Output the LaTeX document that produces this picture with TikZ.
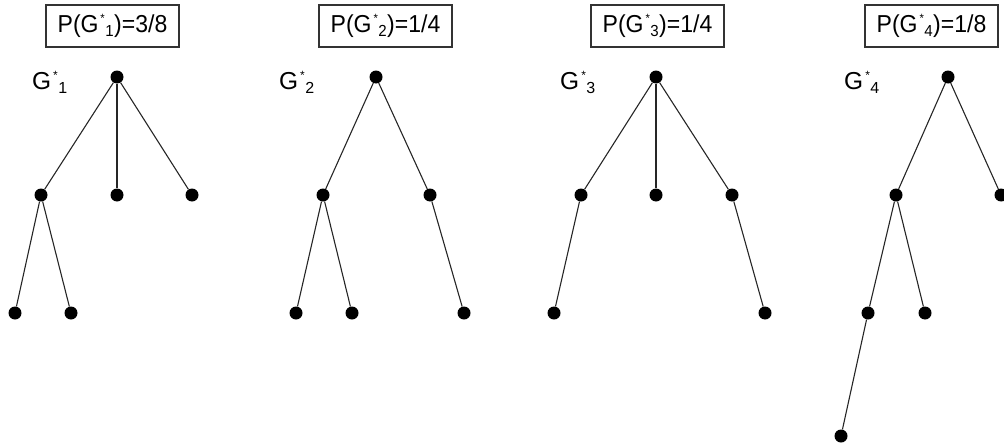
\documentclass[tikz,border=0pt]{standalone}
\usepackage{fontspec}
\setmainfont{Liberation Sans}
% G with a starred superscript and an index subscript set beside it
\newcommand{\gsym}[1]{G\kern2pt\raisebox{10pt}{\fontsize{12}{12}\selectfont *}\kern0.5pt\raisebox{-4pt}{\fontsize{16}{16}\selectfont #1}\kern0.5pt}
\begin{document}
\begin{tikzpicture}[x=1pt,y=-1pt,
  vertex/.style={circle,fill=black,inner sep=0pt,minimum size=13pt},
  edge/.style={draw=black!85,line width=1.1pt},
  probbox/.style={draw=black!80,line width=2.8pt,minimum width=133pt,minimum height=42pt,inner sep=0pt,font=\fontsize{24.5}{24.5}\selectfont},
  glabel/.style={inner sep=0pt,font=\fontsize{24.5}{24.5}\selectfont}]
\useasboundingbox (0,0) rectangle (1004,447);

% probability boxes
\node[probbox] (p1) at (112.5,26) {\scalebox{0.94}[1]{P(\gsym{1})=3/8}};
\node[probbox] (p2) at (385.5,26) {\scalebox{0.94}[1]{P(\gsym{2})=1/4}};
\node[probbox] (p3) at (657.5,26) {\scalebox{0.94}[1]{P(\gsym{3})=1/4}};
\node[probbox] (p4) at (931.5,26) {\scalebox{0.94}[1]{P(\gsym{4})=1/8}};

% tree labels
\node[glabel] (l1) at (50,82) {\gsym{1}};
\node[glabel] (l2) at (297,82) {\gsym{2}};
\node[glabel] (l3) at (578,82) {\gsym{3}};
\node[glabel] (l4) at (862,82) {\gsym{4}};

% tree 1
\node[vertex] (a0) at (117,77) {};
\node[vertex] (a1) at (41,195) {};
\node[vertex] (a2) at (117,195) {};
\node[vertex] (a3) at (192,195) {};
\node[vertex] (a4) at (15,313) {};
\node[vertex] (a5) at (71,313) {};
\draw[edge] (a0) -- (a1);
\draw[edge] (a0) -- (a2);
\draw[edge] (a0) -- (a3);
\draw[edge] (a1) -- (a4);
\draw[edge] (a1) -- (a5);

% tree 2
\node[vertex] (b0) at (376,77) {};
\node[vertex] (b1) at (323,195) {};
\node[vertex] (b2) at (430,195) {};
\node[vertex] (b3) at (296,313) {};
\node[vertex] (b4) at (352,313) {};
\node[vertex] (b5) at (464,313) {};
\draw[edge] (b0) -- (b1);
\draw[edge] (b0) -- (b2);
\draw[edge] (b1) -- (b3);
\draw[edge] (b1) -- (b4);
\draw[edge] (b2) -- (b5);

% tree 3
\node[vertex] (c0) at (656,77) {};
\node[vertex] (c1) at (581,195) {};
\node[vertex] (c2) at (656,195) {};
\node[vertex] (c3) at (732,195) {};
\node[vertex] (c4) at (554,313) {};
\node[vertex] (c5) at (765,313) {};
\draw[edge] (c0) -- (c1);
\draw[edge] (c0) -- (c2);
\draw[edge] (c0) -- (c3);
\draw[edge] (c1) -- (c4);
\draw[edge] (c3) -- (c5);

% tree 4
\node[vertex] (d0) at (948,77) {};
\node[vertex] (d1) at (896,195) {};
\node[vertex] (d2) at (1001,195) {};
\node[vertex] (d3) at (868,313) {};
\node[vertex] (d4) at (925,313) {};
\node[vertex] (d5) at (841,436) {};
\draw[edge] (d0) -- (d1);
\draw[edge] (d0) -- (d2);
\draw[edge] (d1) -- (d3);
\draw[edge] (d1) -- (d4);
\draw[edge] (d3) -- (d5);
\end{tikzpicture}
\end{document}
